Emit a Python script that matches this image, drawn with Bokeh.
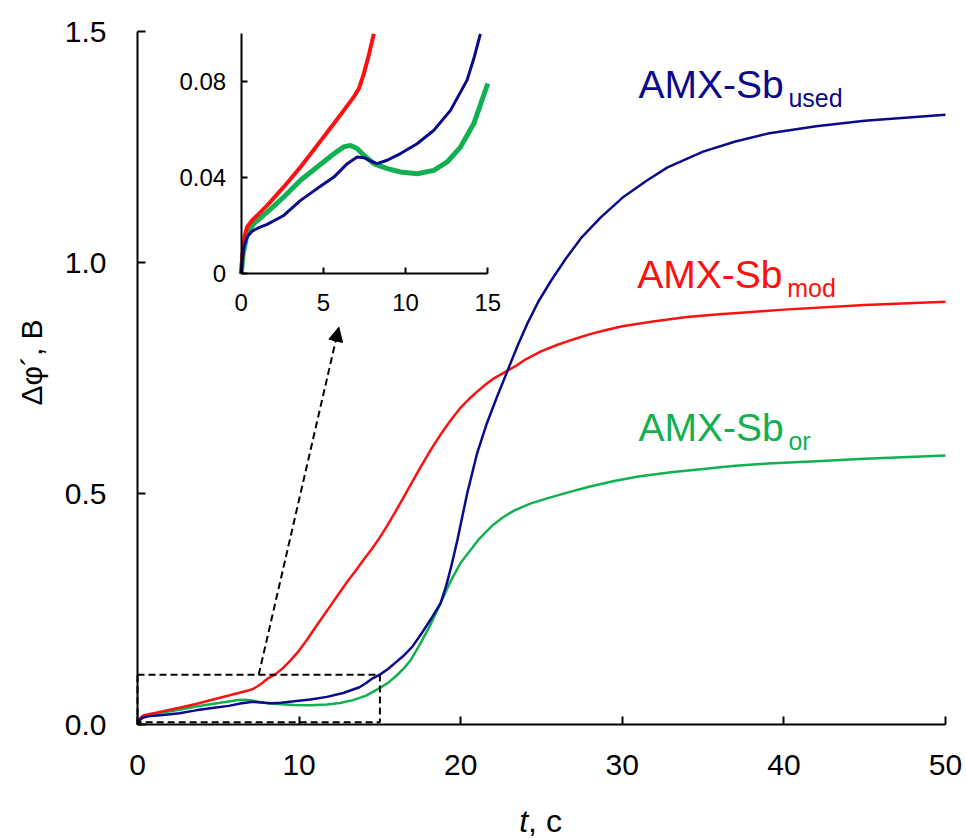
import numpy as np
from bokeh.plotting import figure
from bokeh.models import (Range1d, LinearAxis, FixedTicker, Arrow, NormalHead,
                          ColumnDataSource, CustomJSTickFormatter)
from bokeh.core.properties import value
from bokeh.embed import file_html
from bokeh.resources import INLINE

# ---------------- data ----------------
t_mod = [0, 0.08, 0.2, 0.36, 0.67, 1.07, 1.58, 2.59, 3.61, 4.62, 5.64, 6.24, 6.85, 7.16, 7.46, 7.76,
         8.07, 8.5, 9.0, 9.5, 10, 10.5, 11, 11.5, 12, 12.5, 13, 13.5, 14, 14.5, 15, 15.5, 16, 16.5,
         17, 17.5, 18, 18.5, 19, 19.5, 20, 20.5, 21, 21.5, 22, 22.9, 23.5, 24, 25, 26, 27, 28, 29,
         30, 32, 34, 36, 38, 40, 45, 50]
v_mod = [0, 0.0083, 0.0153, 0.0195, 0.0223, 0.025, 0.0285, 0.0362, 0.0445, 0.0535, 0.0626, 0.0681,
         0.0737, 0.0772, 0.0834, 0.0911, 0.100, 0.108, 0.122, 0.140, 0.160, 0.184, 0.210, 0.235,
         0.260, 0.285, 0.310, 0.333, 0.357, 0.380, 0.405, 0.433, 0.463, 0.494, 0.525, 0.556, 0.586,
         0.614, 0.640, 0.664, 0.686, 0.704, 0.720, 0.735, 0.748, 0.766, 0.778, 0.790, 0.808, 0.822,
         0.834, 0.845, 0.854, 0.862, 0.873, 0.882, 0.888, 0.893, 0.898, 0.908, 0.915]

t_used = [0, 0.06, 0.16, 0.36, 0.67, 1.07, 1.58, 2.59, 3.61, 4.62, 5.64, 6.45, 7.05, 7.46, 7.87,
          8.27, 8.88, 9.69, 10.7, 11.72, 12.73, 13.74, 14.15, 14.55, 15.0, 15.5, 16.0, 16.5, 17.0,
          17.5, 18.1, 18.75, 19.1, 19.4, 19.8, 20.1, 20.4, 21.0, 21.6, 22.2, 22.9, 23.5, 24.1, 24.8,
          25.6, 26.5, 27.5, 28.65, 30, 31.5, 32.8, 35, 37, 39, 42, 45, 50]
v_used = [0, 0.0056, 0.011, 0.0153, 0.0178, 0.0192, 0.0206, 0.0243, 0.0306, 0.0355, 0.0403, 0.0459,
          0.0487, 0.0484, 0.047, 0.0459, 0.0473, 0.0501, 0.0542, 0.0598, 0.0681, 0.0807, 0.0897,
          0.100, 0.108, 0.120, 0.135, 0.150, 0.168, 0.193, 0.225, 0.262, 0.300, 0.340, 0.400, 0.450,
          0.500, 0.585, 0.650, 0.705, 0.766, 0.818, 0.866, 0.915, 0.961, 1.008, 1.055, 1.097, 1.140,
          1.177, 1.206, 1.240, 1.262, 1.279, 1.295, 1.307, 1.320]

t_or = [0, 0.12, 0.36, 0.77, 1.58, 2.59, 3.61, 4.62, 5.64, 6.24, 6.65, 7.05, 7.46, 8.07, 8.88, 9.69,
        10.7, 11.72, 12.53, 13.34, 14.15, 15.0, 15.5, 16.0, 16.5, 16.9, 17.5, 18.1, 18.75, 19.4, 20.0,
        20.6, 21.1, 21.6, 22.0, 22.6, 23.3, 24.3, 25.4, 26.7, 28.0, 29.5, 31.0, 33.0, 35.0, 37.0,
        39.0, 42.0, 45.0, 50.0]
v_or = [0, 0.0083, 0.0167, 0.0209, 0.0257, 0.032, 0.039, 0.0445, 0.050, 0.0529, 0.0535, 0.0522,
        0.0494, 0.0459, 0.0438, 0.0424, 0.0417, 0.0431, 0.0466, 0.0528, 0.0626, 0.0793, 0.090, 0.105,
        0.122, 0.139, 0.175, 0.214, 0.262, 0.312, 0.350, 0.377, 0.400, 0.418, 0.432, 0.448, 0.463,
        0.478, 0.490, 0.503, 0.515, 0.527, 0.537, 0.546, 0.553, 0.560, 0.565, 0.570, 0.575, 0.582]

series_names = ["AMX-Sb", "AMX-Sb", "AMX-Sb"]
series_subs = ["used", "mod", "or"]
series_colors = ["#0a0a8c", "#ff1010", "#12b050"]

main_xlim = [0, 50]
main_ylim = [0, 1.5]
main_xticks = [0, 10, 20, 30, 40, 50]
main_yticks = [0, 0.5, 1.0, 1.5]
inset_xticks = [0, 5, 10, 15]
inset_yticks = [0, 0.04, 0.08]
inset_xlim = [0, 15]
inset_ylim = [0, 0.1]

x_title_parts = ["t", ", с"]          # x axis title: italic t, upright ", с"
x_title_styles = ["italic", "normal"]
y_title = "Δφ´, В"

zoom_box = dict(left=[0], right=[15], bottom=[0.005], top=[0.1075])
arrow_from = (7.5, 0.1075)
arrow_to = (12.46, 0.86)

# label positions (data coords of the cap-height centre of the main text)
label_t = [31.0, 30.92, 31.0]
label_v = [1.385, 0.974, 0.642]

FONT = "Liberation Sans"

# ---------------- layout geometry (page pixels) ----------------
CANVAS_W, CANVAS_H = 965, 838
PLOT_L, PLOT_R, PLOT_T, PLOT_B = 137, 945, 31, 724      # where the main axes sit
INSET_L, INSET_R, INSET_B, INSET_T = 240.7, 487.3, 273.3, 33.3
X_TITLE_PX = [(523.1, 820), (544.5, 820)]
Y_TITLE_PX = (31, 362)

ppx = (PLOT_R - PLOT_L) / (main_xlim[1] - main_xlim[0])
ppy = (PLOT_B - PLOT_T) / (main_ylim[1] - main_ylim[0])
def dx(px): return main_xlim[0] + (px - PLOT_L) / ppx
def dy(py): return main_ylim[0] + (PLOT_B - py) / ppy

# the frame fills the whole canvas; axes are drawn at fixed locations inside it
p = figure(frame_width=CANVAS_W, frame_height=CANVAS_H,
           x_range=Range1d(dx(0), dx(CANVAS_W)), y_range=Range1d(dy(CANVAS_H), dy(0)),
           output_backend="svg", toolbar_location=None,
           min_border_left=0, min_border_top=0, min_border_right=0, min_border_bottom=0,
           background_fill_color="white", border_fill_color="white")
p.outline_line_color = None
p.xgrid.visible = False
p.ygrid.visible = False

for ax in (p.xaxis[0], p.yaxis[0]):
    ax.fixed_location = 0
    ax.axis_line_width = 2
    ax.axis_line_color = "black"
    ax.major_tick_in = 8
    ax.major_tick_out = 0
    ax.major_tick_line_width = 2
    ax.minor_tick_line_color = None
    ax.major_label_text_font = FONT
    ax.major_label_text_font_size = "30px"
    ax.major_label_text_color = "black"

p.xaxis.bounds = tuple(main_xlim)
p.yaxis.bounds = tuple(main_ylim)
p.xaxis.ticker = FixedTicker(ticks=main_xticks)
p.yaxis.ticker = FixedTicker(ticks=main_yticks)
p.yaxis.formatter = CustomJSTickFormatter(code="return tick.toFixed(1)")
p.xaxis.major_label_standoff = 30
p.yaxis.major_label_standoff = 31

# axis titles as text
p.text(x=[dx(X_TITLE_PX[0][0])], y=[dy(X_TITLE_PX[0][1])], text=[x_title_parts[0]],
       text_font=value(FONT), text_font_size="32px", text_font_style=x_title_styles[0],
       text_color="black", text_align="center", text_baseline="middle")
p.text(x=[dx(X_TITLE_PX[1][0])], y=[dy(X_TITLE_PX[1][1])], text=[x_title_parts[1]],
       text_font=value(FONT), text_font_size="32px", text_font_style=x_title_styles[1],
       text_color="black", text_align="center", text_baseline="middle")
p.text(x=[dx(Y_TITLE_PX[0])], y=[dy(Y_TITLE_PX[1])], text=[y_title], angle=np.pi / 2,
       text_font=value(FONT), text_font_size="30px", text_color="black",
       text_align="center", text_baseline="middle")

# main curves
for tt, vv, c in ((t_or, v_or, series_colors[2]), (t_mod, v_mod, series_colors[1]),
                  (t_used, v_used, series_colors[0])):
    p.line(tt, vv, line_color=c, line_width=2.5)

# zoom box and arrow
p.quad(source=ColumnDataSource(zoom_box), left="left", right="right", bottom="bottom", top="top",
       fill_color=None, line_color="black", line_width=2, line_dash="7 4")
p.add_layout(Arrow(x_start=arrow_from[0], y_start=arrow_from[1], x_end=arrow_to[0], y_end=arrow_to[1],
                   line_width=2, line_dash="7 4", line_color="black",
                   end=NormalHead(size=14, fill_color="black", line_color="black", line_width=1)))

# series labels with subscripts
lab_src = ColumnDataSource(dict(x=label_t, y=label_v, name=series_names, sub=series_subs,
                                color=series_colors))
p.text(x="x", y="y", text="name", source=lab_src, text_color="color",
       text_font=value(FONT), text_font_size="39px", text_baseline="middle", text_align="left")
p.text(x="x", y="y", text="sub", source=lab_src, text_color="color", x_offset=150, y_offset=13,
       text_font=value(FONT), text_font_size="25px", text_baseline="middle", text_align="left")

# ---------------- inset (extra ranges mapped to its screen box) ----------------
sx = (INSET_R - INSET_L) / (inset_xlim[1] - inset_xlim[0])
sy = (INSET_B - INSET_T) / (inset_ylim[1] - inset_ylim[0])
ix0 = inset_xlim[0] - INSET_L / sx
iy0 = inset_ylim[0] - (CANVAS_H - INSET_B) / sy
p.extra_x_ranges = {"ix": Range1d(ix0, ix0 + CANVAS_W / sx)}
p.extra_y_ranges = {"iy": Range1d(iy0, iy0 + CANVAS_H / sy)}

for tt, vv, c, w in ((t_or, v_or, series_colors[2], 5), (t_mod, v_mod, series_colors[1], 4),
                     (t_used, v_used, series_colors[0], 3)):
    ta, va = np.array(tt), np.array(vv)
    m = (ta <= inset_xlim[1]) & (va <= inset_ylim[1] + 1e-9)
    p.line(ta[m], va[m], line_color=c, line_width=w, x_range_name="ix", y_range_name="iy")

iax = LinearAxis(x_range_name="ix", y_range_name="iy", fixed_location=0, bounds=tuple(inset_xlim),
                 ticker=FixedTicker(ticks=inset_xticks))
iay = LinearAxis(x_range_name="ix", y_range_name="iy", fixed_location=0, bounds=tuple(inset_ylim),
                 ticker=FixedTicker(ticks=inset_yticks),
                 formatter=CustomJSTickFormatter(code="return tick.toString()"))
for ax in (iax, iay):
    ax.axis_line_width = 2
    ax.major_tick_in = 6
    ax.major_tick_out = 0
    ax.major_tick_line_width = 2
    ax.minor_tick_line_color = None
    ax.major_label_text_font = FONT
    ax.major_label_text_font_size = "24px"
    ax.major_label_text_color = "black"
iax.major_label_standoff = 20
iay.major_label_standoff = 15
p.add_layout(iax, "below")
p.add_layout(iay, "left")

open("out.html", "w").write(file_html(p, INLINE))
